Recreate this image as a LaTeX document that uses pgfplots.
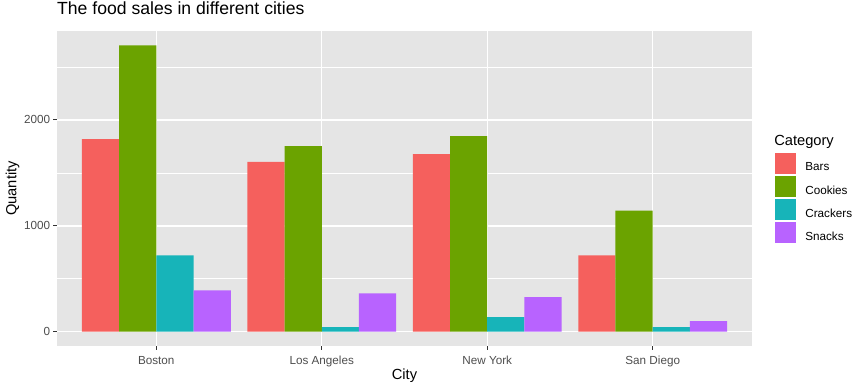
\documentclass[border=0pt]{standalone}
\usepackage{pgfplots}
\pgfplotsset{compat=1.18}
\usepackage{fontspec}
\setmainfont{Liberation Sans}
\definecolor{cBars}{RGB}{245,96,93}
\definecolor{cCookies}{RGB}{107,163,0}
\definecolor{cCrackers}{RGB}{23,180,185}
\definecolor{cSnacks}{RGB}{184,99,255}
\definecolor{ggbg}{RGB}{229,229,229}
\definecolor{gg30}{RGB}{77,77,77}
\definecolor{gg20}{RGB}{51,51,51}
\pgfplotsset{ggkey/.style={legend image code/.code={\fill[##1] (0bp,-6.4bp) rectangle (21.3bp,14.9bp);}}}
\begin{document}
\begin{tikzpicture}
\useasboundingbox (-57bp,-43bp) rectangle (809bp,346bp);
\begin{axis}[
  at={(0,0)}, anchor=south west,
  scale only axis, width=695bp, height=315bp,
  clip=false,
  xmin=0.4, xmax=4.6, ymin=-135, ymax=2840,
  xtick={1,2,3,4}, xticklabels={Boston,Los Angeles,New York,San Diego},
  ytick={0,1000,2000}, minor ytick={500,1500,2500},
  scaled y ticks=false,
  /pgf/number format/1000 sep={},
  /pgf/number format/assume math mode=true,
  grid=both,
  major grid style={white, line width=1.4bp},
  minor grid style={white, line width=0.7bp},
  axis background/.style={fill=ggbg},
  axis line style={draw=none},
  tick align=outside, xtick pos=bottom, ytick pos=left,
  major tick length=3.6bp, minor tick length=0pt,
  tick style={color=gg20, line width=1bp},
  ticklabel style={font=\fontsize{11.7bp}{13bp}\selectfont, text=gg30},
  xticklabel style={anchor=base, inner sep=0pt, yshift=-15bp},
  yticklabel style={anchor=east, inner sep=0pt, xshift=-3bp},
  xlabel={City}, ylabel={Quantity},
  label style={font=\fontsize{14.67bp}{16bp}\selectfont},
  xlabel style={at={(axis description cs:0.5,-0.1048)}, anchor=base, inner sep=0pt},
  ylabel style={at={(axis description cs:-0.0583,0.5)}, anchor=base, inner sep=0pt},
  title={The food sales in different cities},
  title style={at={(axis description cs:0,1)}, anchor=base west, yshift=10.3bp, inner sep=0pt, font=\fontsize{17.6bp}{19bp}\selectfont},
  legend style={at={(axis description cs:1.0331,0.6138)}, anchor=north west, draw=none, fill=none,
    inner sep=0pt, outer sep=0pt, row sep=1.7bp, column sep=9bp,
    font=\fontsize{11.7bp}{13bp}\selectfont, nodes={inner sep=0pt}},
  legend cell align=left,
]
\addplot[ybar, bar width=0.225, bar shift=-0.3375, fill=cBars, draw=none, ggkey] coordinates {(1,1819) (2,1603) (3,1678) (4,720)};
\addplot[ybar, bar width=0.225, bar shift=-0.1125, fill=cCookies, draw=none, ggkey] coordinates {(1,2705) (2,1753) (3,1847) (4,1143)};
\addplot[ybar, bar width=0.225, bar shift=0.1125, fill=cCrackers, draw=none, ggkey] coordinates {(1,720) (2,44) (3,138) (4,44)};
\addplot[ybar, bar width=0.225, bar shift=0.3375, fill=cSnacks, draw=none, ggkey] coordinates {(1,391) (2,363) (3,326) (4,100)};
\legend{Bars,Cookies,Crackers,Snacks}
\node[anchor=base west, inner sep=0pt, font=\fontsize{14.67bp}{16bp}\selectfont] at (axis description cs:1.0318,0.638) {Category};
\end{axis}
\end{tikzpicture}
\end{document}
